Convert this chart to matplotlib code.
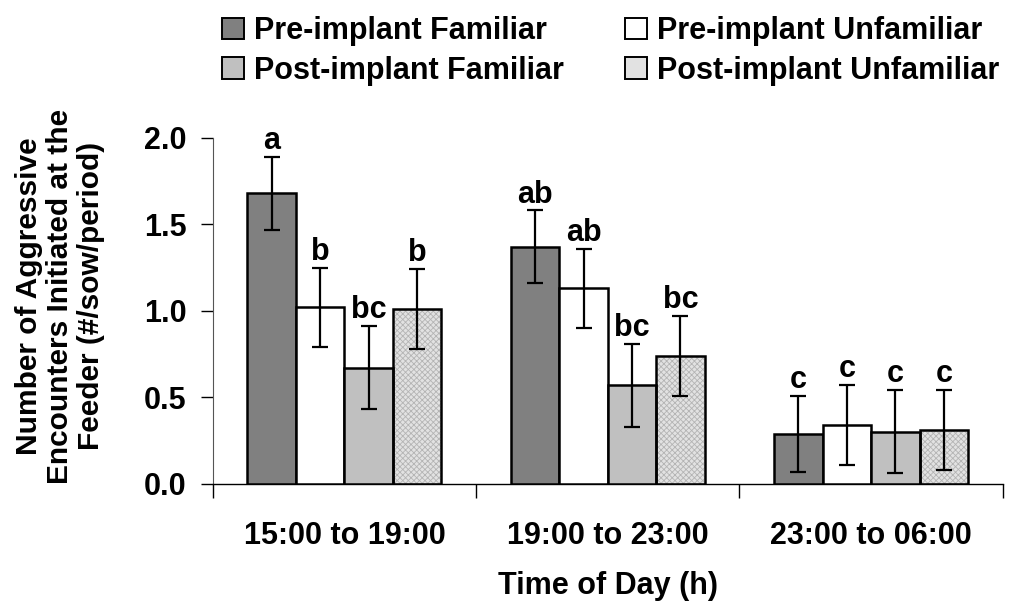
import matplotlib.pyplot as plt
import numpy as np
from matplotlib.patches import Patch

plt.rcParams['font.family'] = ['Liberation Sans', 'DejaVu Sans']
plt.rcParams['font.weight'] = 'bold'
plt.rcParams['hatch.linewidth'] = 0.6

# data
periods = ["15:00 to 19:00", "19:00 to 23:00", "23:00 to 06:00"]
series = ["Pre-implant Familiar", "Pre-implant Unfamiliar",
          "Post-implant Familiar", "Post-implant Unfamiliar"]
means = [
    [1.68, 1.37, 0.29],   # pre familiar
    [1.02, 1.13, 0.34],   # pre unfamiliar
    [0.67, 0.57, 0.30],   # post familiar
    [1.01, 0.74, 0.31],   # post unfamiliar
]
sems = [
    [0.21, 0.21, 0.22],
    [0.23, 0.23, 0.23],
    [0.24, 0.24, 0.24],
    [0.23, 0.23, 0.23],
]
letters = [
    ["a", "ab", "c"],
    ["b", "ab", "c"],
    ["bc", "bc", "c"],
    ["b", "bc", "c"],
]

colors = ["#808080", "#ffffff", "#c0c0c0", "#e2e2e2"]
hatches = [None, None, None, "xxxxxx"]
FS = 22

fig = plt.figure(figsize=(10.13, 6.1), dpi=100)
ax = fig.add_axes([0.210, 0.207, 0.780, 0.567])

x = np.arange(len(periods))
w = 0.184
handles = []
for i, name in enumerate(series):
    pos = x + (i - 1.5) * w
    if hatches[i]:
        ax.bar(pos, means[i], w, color=colors[i], edgecolor="#b4b4b4",
               hatch=hatches[i], linewidth=0, zorder=2)
        ax.bar(pos, means[i], w, fill=False, edgecolor="black",
               linewidth=1.8, zorder=3)
    else:
        ax.bar(pos, means[i], w, color=colors[i], edgecolor="black",
               linewidth=1.8, zorder=3)
    ax.errorbar(pos, means[i], yerr=sems[i], fmt="none", ecolor="black",
                elinewidth=1.6, capsize=6, capthick=1.6, zorder=4)
    for p, m, s, t in zip(pos, means[i], sems[i], letters[i]):
        ax.text(p, m + s + 0.005, t, ha="center", va="bottom",
                fontsize=FS, fontweight="bold")
    handles.append(Patch(facecolor=colors[i], edgecolor="black", linewidth=1.4))

ax.set_ylim(0, 2.0)
ax.set_xlim(-0.5, 2.5)
ax.set_yticks([0, 0.5, 1.0, 1.5, 2.0])
ax.set_yticklabels(["0.0", "0.5", "1.0", "1.5", "2.0"])
ax.tick_params(axis="y", direction="out", length=9, width=1, labelsize=FS, pad=10)

ax.set_xticks([-0.5, 0.5, 1.5, 2.5])
ax.set_xticklabels([])
ax.tick_params(axis="x", which="major", direction="out", length=10, width=1)
ax.set_xticks(x, minor=True)
ax.set_xticklabels(periods, minor=True)
ax.tick_params(axis="x", which="minor", length=0, labelsize=FS, pad=27)

for s in ["top", "right"]:
    ax.spines[s].set_visible(False)
ax.spines["left"].set_color("#555555")
ax.spines["bottom"].set_linewidth(1)

fig.text(0.5 * (0.210 + 0.990), 1 - 586 / 610, "Time of Day (h)",
         ha="center", va="center", fontsize=FS, fontweight="bold")
fig.text(60 / 1013, 1 - 296 / 610,
         "Number of Aggressive\nEncounters Initiated at the\nFeeder (#/sow/period)",
         ha="center", va="center", rotation=90, fontsize=21.5, fontweight="bold",
         linespacing=1.15)

order = [0, 2, 1, 3]
fig.legend([handles[k] for k in order], [series[k] for k in order],
           loc="center", bbox_to_anchor=(0.603, 1 - 51 / 610), ncol=2, frameon=False,
           fontsize=FS, handlelength=0.7, handleheight=0.7, handletextpad=0.35,
           columnspacing=2.0, labelspacing=0.3, borderpad=0)

fig.savefig("out.png", dpi=100)
